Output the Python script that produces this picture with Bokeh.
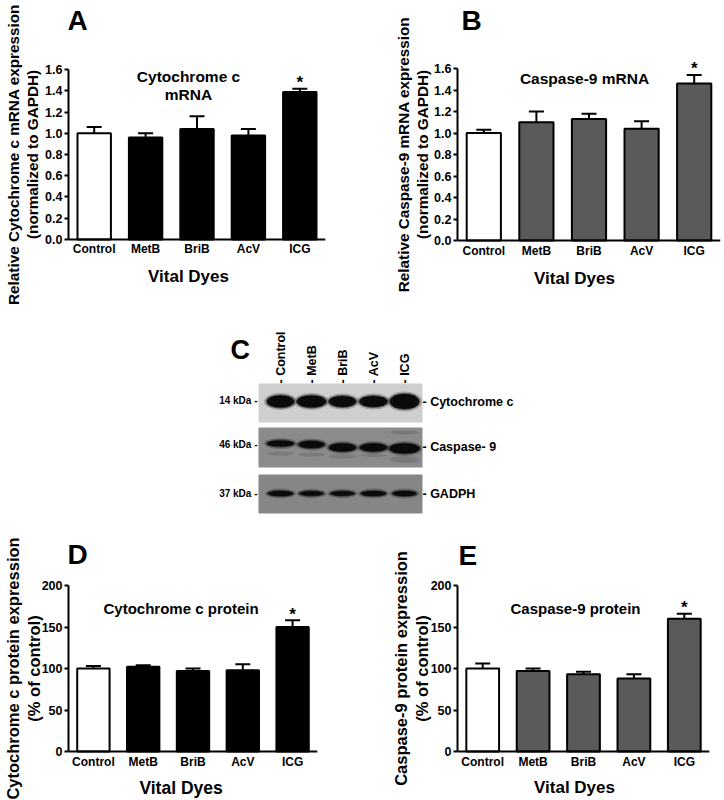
import math
from bokeh.plotting import figure
from bokeh.models import (Range1d, FactorRange, FixedTicker, PrintfTickFormatter,
                          Whisker, TeeHead, ColumnDataSource, Label)
from bokeh.layouts import column, row
from bokeh.embed import file_html
from bokeh.resources import INLINE
from bokeh.core.properties import value

FONT = "Liberation Sans"

# ---------------- data ----------------
dyes = ["Control", "MetB", "BriB", "AcV", "ICG"]

cytc_mrna = [1.00, 0.96, 1.04, 0.98, 1.39]
cytc_mrna_err = [0.06, 0.04, 0.12, 0.06, 0.03]

casp9_mrna = [1.00, 1.10, 1.13, 1.04, 1.46]
casp9_mrna_err = [0.03, 0.10, 0.05, 0.07, 0.08]

cytc_prot = [100, 102, 97, 98, 150]
cytc_prot_err = [3, 2, 3, 7, 8]

casp9_prot = [100, 97, 93, 88, 160]
casp9_prot_err = [6, 3, 3, 5, 6]

significant = [False, False, False, False, True]

mrna_ticks = [0.0, 0.2, 0.4, 0.6, 0.8, 1.0, 1.2, 1.4, 1.6]
prot_ticks = [0, 50, 100, 150, 200]

# western blot (band width, thickness, row position per lane)
blot_lanes = ["- Control", "- MetB", "- BriB", "- AcV", "- ICG"]
cytc_band_w = [27, 29, 27, 28, 29]
cytc_band_h = [12, 12, 11, 11, 15]
casp9_band_w = [27, 26, 27, 27, 30]
casp9_band_h = [6, 7, 8, 8, 10]
casp9_band_shift = [0, 1, 4, 4, 5]
gapdh_band_w = [25, 24, 24, 25, 24]
gapdh_band_h = [5, 4.5, 4.5, 5, 5]
blot_markers = ["14 kDa -", "46 kDa -", "37 kDa -"]
blot_proteins = ["- Cytochrome c", "- Caspase- 9", "- GADPH"]


def bar_panel(width, height, frame, frame_tb, values, errors, bar_color, ymax, ticks,
              fmt, letter, letter_pos, title_lines, title_x, title_ys, title_size,
              ylab, ylab_size, ylab_standoff, xlab_pos, xlab_size, page_origin):
    ox, oy = page_origin
    fl, fr, at, fb = frame  # page coords: frame left/right, axis top, axis bottom
    ftop, fbot = frame_tb   # page coords of the (invisible) plotting frame
    ppu = (fb - at) / ymax  # pixels per unit
    p = figure(width=width, height=height, x_range=FactorRange(factors=dyes),
               y_range=Range1d(-(fbot - fb) / ppu, (fb - ftop) / ppu),
               output_backend="svg", toolbar_location=None,
               min_border_left=fl - ox, min_border_right=ox + width - fr,
               min_border_top=ftop - oy, min_border_bottom=oy + height - fbot)
    fw = fr - fl

    def fx(px):
        return (px - fl) / fw * len(dyes)

    def fy(py):
        return (fb - py) / ppu

    colors = ["white"] + [bar_color] * (len(dyes) - 1)
    tops = [v + e for v, e in zip(values, errors)]
    src = ColumnDataSource(dict(dye=dyes, val=values, top=tops, color=colors))
    p.vbar(x="dye", top="val", width=0.65, fill_color="color", line_color="black",
           line_width=2, source=src)
    w = Whisker(source=src, base="dye", lower="val", upper="top", line_width=2,
                line_color="black", lower_head=None,
                upper_head=TeeHead(size=15, line_width=2, line_color="black"))
    p.add_layout(w)
    sx = [d for d, s in zip(dyes, significant) if s]
    sy = [t for t, s in zip(tops, significant) if s]
    p.text(x=sx, y=sy, text=["*"] * len(sx), text_align="center",
           text_baseline="alphabetic", text_font=value(FONT),
           text_font_style="bold", text_font_size="17px", y_offset=-6)

    p.grid.visible = False
    p.outline_line_color = None
    p.background_fill_color = "white"
    p.border_fill_color = "white"

    xa = p.xaxis[0]
    xa.fixed_location = 0
    xa.axis_line_width = 2
    xa.major_tick_line_color = None
    xa.major_tick_out = 0
    xa.major_tick_in = 0
    xa.minor_tick_line_color = None
    xa.major_label_text_font = FONT
    xa.major_label_text_font_style = "bold"
    xa.major_label_text_font_size = "12px"
    xa.major_label_standoff = 3
    xa.major_label_text_color = "black"

    ya = p.yaxis[0]
    ya.ticker = FixedTicker(ticks=ticks)
    ya.formatter = PrintfTickFormatter(format=fmt)
    ya.bounds = (0, ymax)
    ya.axis_line_width = 2
    ya.major_tick_line_width = 2
    ya.major_tick_out = 4
    ya.major_tick_in = 0
    ya.minor_tick_line_color = None
    ya.major_label_text_font = FONT
    ya.major_label_text_font_style = "bold"
    ya.major_label_text_font_size = "12.5px"
    ya.major_label_standoff = 2
    ya.major_label_text_color = "black"
    ya.axis_label = ylab
    ya.axis_label_text_font = FONT
    ya.axis_label_text_font_style = "bold"
    ya.axis_label_text_font_size = ylab_size
    ya.axis_label_standoff = ylab_standoff
    ya.axis_label_text_color = "black"
    ya.axis_label_text_line_height = 1.15

    def lab(px, py, text, size, align="center"):
        p.add_layout(Label(x=fx(px), y=fy(py), text=text, text_font=FONT,
                           text_font_style="bold", text_font_size=size,
                           text_align=align, text_baseline="middle",
                           text_color="black"))

    lab(letter_pos[0], letter_pos[1], letter, "28px", align="left")
    for t, ty in zip(title_lines, title_ys):
        lab(title_x, ty, t, title_size)
    lab(xlab_pos[0], xlab_pos[1], "Vital Dyes", xlab_size)
    return p


pA = bar_panel(362, 315, (68, 325, 70, 242), (3, 309), cytc_mrna, cytc_mrna_err, "black",
               1.6, mrna_ticks, "%.1f", "A", (67, 20), ["Cytochrome c", "mRNA"], 188,
               [77, 95], "15.5px",
               "Relative Cytochrome c mRNA expression\n(normalized to GAPDH)",
               "15.3px", 1, (188, 280), "17px", (0, 0))

pB = bar_panel(362, 315, (457, 720, 68, 240), (3, 305), casp9_mrna, casp9_mrna_err,
               "#5a5a5a", 1.6, mrna_ticks, "%.1f", "B", (461, 19.5), ["Caspase-9 mRNA"],
               584, [78], "15.5px",
               "Relative Caspase-9 mRNA expression\n(normalized to GAPDH)",
               "15.3px", 0, (574, 278), "17px", (362, 0))

pD = bar_panel(362, 280, (67, 317, 585, 751), (536, 800), cytc_prot, cytc_prot_err, "black",
               200, prot_ticks, "%d", "D", (66, 554), ["Cytochrome c protein"], 180, [608],
               "15px", "Cytochrome c protein expression\n(% of control)",
               "16.5px", -4, (180, 787), "17.5px", (0, 520))

pE = bar_panel(362, 280, (457, 709, 585, 751), (536, 800), casp9_prot, casp9_prot_err,
               "#5a5a5a", 200, prot_ticks, "%d", "E", (458, 555), ["Caspase-9 protein"],
               575, [608], "15px", "Caspase-9 protein expression\n(% of control)",
               "16.5px", -3, (574, 787), "17px", (362, 520))

# ---------------- panel C: western blot ----------------
pC = figure(width=724, height=205, x_range=Range1d(0, 724), y_range=Range1d(520, 315),
            output_backend="svg", toolbar_location=None, min_border=0,
            x_axis_location=None, y_axis_location=None)
pC.grid.visible = False
pC.outline_line_color = None

lane_x = [280 + 31 * i for i in range(len(blot_lanes))]
rows = [(383, 422, "#cfcfcf"), (427, 467, "#8b8b8b"), (474, 513, "#868686")]
for top, bot, col in rows:
    pC.quad(left=258, right=422, top=top, bottom=bot, fill_color=col, line_color=None)


def bands(y, ws, hs, shift=None, color="#0a0a0a"):
    ys = [y + (shift[i] if shift else 0) for i in range(len(ws))]
    pC.ellipse(x=lane_x, y=ys, width=[w + 6 for w in ws], height=[h + 5 for h in hs],
               fill_color=color, fill_alpha=0.25, line_color=None)
    pC.ellipse(x=lane_x, y=ys, width=[w + 2 for w in ws], height=[h + 2 for h in hs],
               fill_color=color, fill_alpha=0.55, line_color=None)
    pC.ellipse(x=lane_x, y=ys, width=ws, height=hs, fill_color=color, fill_alpha=0.95,
               line_color=None)
    pC.rect(x=lane_x, y=ys, width=[w - 8 for w in ws], height=[h * 0.8 for h in hs],
            fill_color=color, line_color=None)


bands(401, cytc_band_w, cytc_band_h)
bands(443, casp9_band_w, casp9_band_h, casp9_band_shift)
# faint secondary bands in caspase-9 row
pC.ellipse(x=lane_x, y=[453, 454, 456, 455, 459], width=casp9_band_w,
           height=[4, 4, 4, 3, 7], fill_color="#333333", fill_alpha=0.18, line_color=None)
pC.ellipse(x=lane_x[-1:], y=[432], width=[28], height=[4], fill_color="#333333",
           fill_alpha=0.2, line_color=None)
bands(493, gapdh_band_w, gapdh_band_h)

pC.text(x=[230], y=[349], text=["C"], text_font=value(FONT), text_font_style="bold",
        text_font_size="27px", text_align="left", text_baseline="middle")
pC.text(x=lane_x, y=[383] * len(lane_x), text=blot_lanes, angle=math.pi / 2,
        text_font=value(FONT), text_font_style="bold", text_font_size="12.5px",
        text_align="left", text_baseline="middle")
pC.text(x=[257] * 3, y=[400, 444, 493], text=blot_markers, text_font=value(FONT),
        text_font_style="bold", text_font_size="10px", text_align="right",
        text_baseline="middle")
pC.text(x=[422] * 3, y=[401, 446, 493], text=blot_proteins, text_font=value(FONT),
        text_font_style="bold", text_font_size="12.5px", text_align="left",
        text_baseline="middle")

layout = column(row(pA, pB), pC, row(pD, pE))
layout.styles = {"position": "absolute", "left": "0px", "top": "0px"}

open("out.html", "w").write(file_html(layout, INLINE))
